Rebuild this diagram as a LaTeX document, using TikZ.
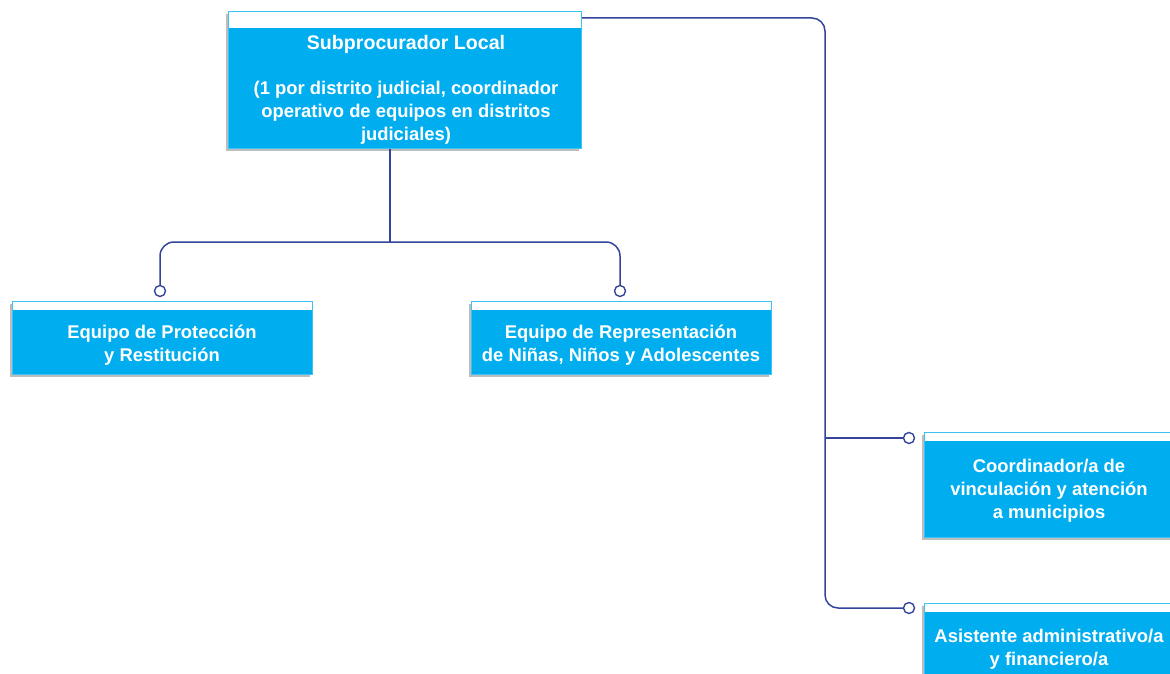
\documentclass[tikz,border=0pt]{standalone}
\usepackage{fontspec}
\setmainfont{Liberation Sans}
\usetikzlibrary{calc,shadows}
\definecolor{cardblue}{HTML}{00AEEF}
\definecolor{cardedge}{HTML}{3DC2F3}
\definecolor{cardshadow}{HTML}{BDBDBD}
\definecolor{linkblue}{HTML}{34449A}
\tikzset{
  card/.style={rectangle, anchor=north west, draw=cardedge, fill=cardblue,
    line width=1.2pt, inner sep=0pt,
    general shadow={fill=cardshadow, shadow xshift=-2.5pt, shadow yshift=-2.5pt},
    path picture={\fill[white] (path picture bounding box.north west)
      rectangle ([yshift=-#1]path picture bounding box.north east);}},
  cardtext/.style={text=white, font=\bfseries\fontsize{18.4}{23}\selectfont,
    align=center, inner sep=0pt},
  link/.style={draw=linkblue, line width=1.5pt},
  knob/.style={circle, draw=linkblue, fill=white, line width=1.4pt,
    minimum size=11pt, inner sep=0pt}
}
\begin{document}
\begin{tikzpicture}[x=1pt, y=-1pt]
  \useasboundingbox (0,0) rectangle (1170,674);
  \clip (0,0) rectangle (1170,674);

  % cards
  \node[card=16pt, minimum width=353pt, minimum height=137pt] (sub) at (228,11) {};
  \node[card=8pt, minimum width=300pt, minimum height=73pt] (prot) at (12,301) {};
  \node[card=8pt, minimum width=300pt, minimum height=73pt] (repr) at (471,301) {};
  \node[card=8pt, minimum width=250pt, minimum height=105pt] (coord) at (924,432) {};
  \node[card=8pt, minimum width=250pt, minimum height=80pt] (asis) at (924,603) {};

  % card texts
  \node[cardtext] (subtxt) at (406,90)
    {{\fontsize{19.6}{23}\selectfont Subprocurador Local}\\[22pt]
     (1 por distrito judicial, coordinador\\
     operativo de equipos en distritos\\
     judiciales)};
  \node[cardtext] (prottxt) at (162,345) {Equipo de Protección\\y Restitución};
  \node[cardtext] (reprtxt) at (621,345) {Equipo de Representación\\de Niñas, Niños y Adolescentes};
  \node[cardtext] (coordtxt) at (1049,491) {Coordinador/a de\\vinculación y atención\\a municipios};
  \node[cardtext] (asistxt) at (1049,649) {Asistente administrativo/a\\y financiero/a};

  % connector end knobs
  \node[knob] (k2) at (160,291) {};
  \node[knob] (k3) at (620,291) {};
  \node[knob] (k4) at (909,438) {};
  \node[knob] (k5) at (909,608) {};

  % bus routing points
  \coordinate (busTop) at (825,18);
  \coordinate (busMid) at (825,438);
  \coordinate (busLow) at (825,608);
  \coordinate (split) at (390,242);

  % connectors
  \draw[link, rounded corners=13pt] ([yshift=-7pt]sub.north east) -- (busTop) -- (busLow) -- (k5.west);
  \draw[link] (busMid) -- (k4.west);
  \draw[link] (split |- sub.south) -- (split);
  \draw[link, rounded corners=14pt] (k2.north) -- (k2.north |- split) -- (k3.north |- split) -- (k3.north);
\end{tikzpicture}
\end{document}
